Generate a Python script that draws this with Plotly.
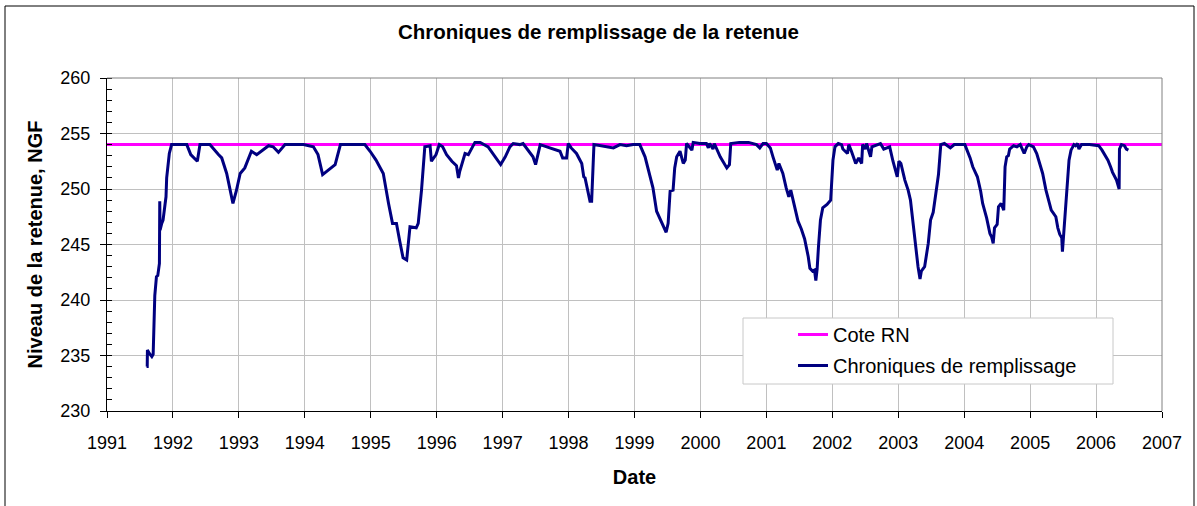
import plotly.graph_objects as go

# Reservoir level record (decimal year, level in m NGF)
annees = [
    1991.600, 1991.610, 1991.613, 1991.640, 1991.680, 1991.700, 1991.725, 1991.740,
    1991.750, 1991.770, 1991.795, 1991.800, 1991.805, 1991.830, 1991.850, 1991.880,
    1991.895, 1991.905, 1991.915, 1991.945, 1991.980, 1992.210, 1992.270, 1992.330,
    1992.370, 1992.410, 1992.560, 1992.690, 1992.740, 1992.815, 1992.850, 1992.910,
    1992.960, 1993.020, 1993.090, 1993.190, 1993.270, 1993.450, 1993.520, 1993.600,
    1993.700, 1993.980, 1994.130, 1994.200, 1994.270, 1994.460, 1994.540, 1994.910,
    1994.990, 1995.080, 1995.190, 1995.230, 1995.270, 1995.330, 1995.390, 1995.440,
    1995.490, 1995.545, 1995.595, 1995.690, 1995.720, 1995.770, 1995.820, 1995.900,
    1995.920, 1995.990, 1996.040, 1996.090, 1996.150, 1996.230, 1996.300, 1996.330,
    1996.350, 1996.430, 1996.480, 1996.580, 1996.660, 1996.780, 1996.860, 1996.970,
    1997.040, 1997.110, 1997.160, 1997.260, 1997.310, 1997.390, 1997.460, 1997.500,
    1997.570, 1997.670, 1997.870, 1997.910, 1997.970, 1997.996, 1998.040, 1998.120,
    1998.200, 1998.230, 1998.250, 1998.325, 1998.350, 1998.385, 1998.680, 1998.780,
    1998.880, 1998.980, 1999.080, 1999.160, 1999.220, 1999.280, 1999.335, 1999.400,
    1999.430, 1999.480, 1999.510, 1999.540, 1999.585, 1999.610, 1999.640, 1999.690,
    1999.740, 1999.770, 1999.790, 1999.870, 1999.890, 1999.990, 2000.090, 2000.120,
    2000.140, 2000.190, 2000.210, 2000.300, 2000.400, 2000.440, 2000.460, 2000.590,
    2000.730, 2000.850, 2000.900, 2000.950, 2001.000, 2001.060, 2001.100, 2001.165,
    2001.190, 2001.250, 2001.300, 2001.340, 2001.370, 2001.430, 2001.480, 2001.530,
    2001.580, 2001.635, 2001.660, 2001.700, 2001.730, 2001.750, 2001.770, 2001.790,
    2001.820, 2001.855, 2001.920, 2001.975, 2002.010, 2002.040, 2002.090, 2002.140,
    2002.160, 2002.230, 2002.250, 2002.290, 2002.355, 2002.400, 2002.445, 2002.460,
    2002.500, 2002.520, 2002.580, 2002.600, 2002.670, 2002.730, 2002.780, 2002.870,
    2002.920, 2002.985, 2003.010, 2003.040, 2003.100, 2003.150, 2003.185, 2003.210,
    2003.240, 2003.270, 2003.300, 2003.330, 2003.350, 2003.400, 2003.455, 2003.490,
    2003.530, 2003.570, 2003.610, 2003.645, 2003.700, 2003.790, 2003.850, 2004.010,
    2004.090, 2004.130, 2004.200, 2004.250, 2004.280, 2004.340, 2004.390, 2004.415,
    2004.440, 2004.460, 2004.500, 2004.520, 2004.560, 2004.600, 2004.620, 2004.645,
    2004.670, 2004.690, 2004.750, 2004.800, 2004.850, 2004.910, 2004.950, 2004.980,
    2005.050, 2005.100, 2005.150, 2005.190, 2005.240, 2005.290, 2005.320, 2005.390,
    2005.420, 2005.450, 2005.480, 2005.490, 2005.530, 2005.565, 2005.590, 2005.620,
    2005.665, 2005.690, 2005.720, 2005.740, 2005.780, 2005.900, 2006.040, 2006.090,
    2006.150, 2006.180, 2006.220, 2006.250, 2006.310, 2006.350, 2006.355, 2006.385,
    2006.430, 2006.460, 2006.490,
]

niveaux = [
    234.0, 234.0, 235.5, 235.2, 234.9, 235.1, 240.4, 241.2,
    242.1, 242.2, 243.3, 248.9, 246.3, 246.9, 247.2, 248.6,
    249.3, 251.0, 251.5, 253.2, 254.0, 254.0, 253.1, 252.7,
    252.5, 254.0, 254.0, 253.1, 252.8, 251.4, 250.3, 248.7,
    249.8, 251.4, 251.9, 253.4, 253.1, 253.9, 253.8, 253.3,
    254.0, 254.0, 253.8, 253.1, 251.3, 252.2, 254.0, 254.0,
    253.4, 252.6, 251.4, 249.9, 248.7, 246.9, 246.9, 245.3,
    243.8, 243.6, 246.6, 246.5, 246.9, 249.9, 253.8, 253.9,
    252.5, 253.1, 254.0, 253.8, 253.1, 252.5, 252.1, 251.0,
    251.6, 253.2, 253.1, 254.2, 254.2, 253.8, 253.1, 252.2,
    252.9, 253.8, 254.1, 254.0, 254.1, 253.5, 252.9, 252.2,
    254.0, 253.8, 253.4, 252.8, 252.8, 254.1, 253.7, 253.2,
    252.3, 251.1, 251.0, 248.9, 248.9, 254.0, 253.7, 254.0,
    253.9, 254.0, 254.0, 252.9, 251.4, 250.1, 248.0, 247.1,
    246.8, 246.1, 246.9, 249.8, 249.9, 251.9, 252.9, 253.4,
    252.3, 252.6, 254.1, 253.5, 254.2, 254.1, 254.1, 253.7,
    254.1, 253.6, 254.1, 252.9, 251.9, 252.2, 254.1, 254.2,
    254.2, 254.0, 253.7, 254.1, 254.1, 253.7, 252.9, 251.7,
    252.3, 251.4, 250.1, 249.3, 249.9, 248.3, 247.1, 246.4,
    245.5, 243.9, 242.85, 242.6, 242.7, 241.75, 242.8, 244.8,
    247.2, 248.3, 248.6, 249.0, 252.6, 253.8, 254.1, 254.0,
    253.6, 253.2, 254.0, 253.4, 252.3, 252.8, 252.3, 254.0,
    253.6, 254.1, 252.9, 253.8, 254.0, 254.1, 253.6, 253.8,
    252.5, 251.1, 252.5, 252.3, 250.8, 249.9, 249.0, 247.65,
    246.3, 244.2, 243.0, 241.9, 242.6, 243.0, 245.1, 247.2,
    247.9, 249.6, 251.3, 254.0, 254.1, 253.7, 254.0, 254.0,
    252.8, 252.0, 251.1, 249.8, 248.7, 247.4, 246.0, 245.7,
    245.1, 246.5, 246.8, 248.4, 248.7, 248.1, 252.0, 252.9,
    253.0, 253.6, 253.9, 253.8, 254.0, 253.2, 253.8, 254.0,
    253.8, 253.2, 252.3, 251.4, 249.9, 248.85, 248.1, 247.5,
    246.5, 245.9, 245.6, 244.35, 247.5, 250.5, 252.6, 253.5,
    254.0, 253.9, 254.1, 253.6, 254.0, 254.0, 253.9, 253.5,
    252.9, 252.6, 252.0, 251.5, 250.8, 250.0, 253.6, 254.0,
    253.9, 253.6, 253.5,
]

# Normal retention level (Cote RN) across the whole period
cote_rn_annees = [1991, 2007]
cote_rn_niveaux = [254, 254]

annees_ticks = list(range(1991, 2008))
niveaux_ticks = list(range(230, 261, 5))

POLICE = "Liberation Sans, Arial, sans-serif"

fig = go.Figure()
fig.add_trace(go.Scatter(
    x=cote_rn_annees, y=cote_rn_niveaux, mode="lines", name="Cote RN",
    line=dict(color="#ff00ff", width=3), legendgroup="rn",
))
fig.add_trace(go.Scatter(
    x=annees, y=niveaux, mode="lines", name="Chroniques de remplissage",
    line=dict(color="#000080", width=3), legendgroup="chro",
))

L, R, T, B = 107, 35, 78, 95
W, H = 1197, 506
pw, ph = W - L - R, H - T - B


def px_x(px):
    return (px - L) / pw


def px_y(py):
    return (H - B - py) / ph


fig.update_layout(
    width=W, height=H,
    margin=dict(l=L, r=R, t=T, b=B),
    paper_bgcolor="white", plot_bgcolor="white",
    font=dict(family=POLICE, size=18, color="black"),
    title=dict(
        text="<b>Chroniques de remplissage de la retenue</b>",
        x=0.5, xanchor="center", y=1 - 32 / H, yanchor="middle",
        font=dict(family=POLICE, size=20.5, color="black"),
    ),
    xaxis=dict(
        range=[1991, 2007], tickvals=annees_ticks, tickformat="d",
        showgrid=True, gridcolor="#c0c0c0", gridwidth=1,
        showline=True, linecolor="black", linewidth=1,
        ticks="outside", ticklen=6, tickcolor="black",
        ticklabelstandoff=9,
        tickfont=dict(family=POLICE, size=18, color="black"),
        zeroline=False,
        title=dict(text="<b>Date</b>", standoff=18,
                   font=dict(family=POLICE, size=20, color="black")),
    ),
    yaxis=dict(
        range=[230, 260], tickvals=niveaux_ticks,
        showgrid=True, gridcolor="#c0c0c0", gridwidth=1,
        showline=True, linecolor="black", linewidth=1,
        ticks="outside", ticklen=6, tickcolor="black",
        ticklabelstandoff=6,
        tickfont=dict(family=POLICE, size=18, color="black"),
        minor=dict(dtick=1, ticks="inside", ticklen=5, tickcolor="black", showgrid=False),
        zeroline=False,
        title=dict(text="<b>Niveau de la retenue, NGF</b>", standoff=12,
                   font=dict(family=POLICE, size=20, color="black")),
    ),
    legend=dict(
        x=px_x(793), y=px_y(315), xanchor="left", yanchor="top",
        bgcolor="rgba(0,0,0,0)", borderwidth=0,
        traceorder="grouped", tracegroupgap=2,
        font=dict(family=POLICE, size=20, color="black"),
    ),
    shapes=[
        # plot area top and right edges
        dict(type="line", xref="paper", yref="paper", x0=0, x1=1, y0=1, y1=1,
             line=dict(color="#808080", width=1)),
        dict(type="line", xref="paper", yref="paper", x0=1, x1=1, y0=0, y1=1,
             line=dict(color="#808080", width=1)),
        # legend frame
        dict(type="rect", xref="paper", yref="paper",
             x0=px_x(743), x1=px_x(1113), y0=px_y(384), y1=px_y(318),
             line=dict(color="#c8c8c8", width=1), fillcolor="white", layer="above"),
        # outer chart frame
        dict(type="rect", xref="paper", yref="paper",
             x0=px_x(5), x1=px_x(1194), y0=px_y(510), y1=px_y(6),
             line=dict(color="black", width=1), fillcolor="rgba(0,0,0,0)"),
    ],
)

fig.write_html("out.html")
